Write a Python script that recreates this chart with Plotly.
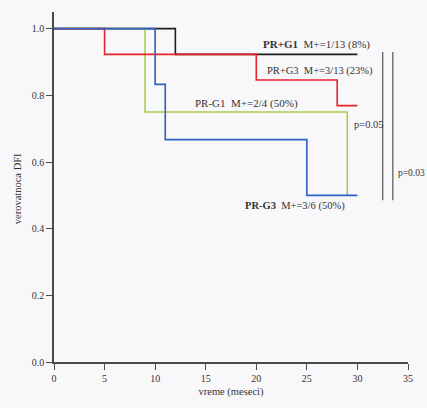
import plotly.graph_objects as go

# Kaplan-Meier step curves: event times (months) and survival probabilities
pr_g1_t = [0, 12, 30]
pr_g1_s = [1.0, 0.923, 0.923]

pr_g3_t = [0, 5, 20, 28, 30]
pr_g3_s = [1.0, 0.923, 0.846, 0.769, 0.769]

prm_g1_t = [0, 9, 29]
prm_g1_s = [1.0, 0.75, 0.5]

prm_g3_t = [0, 10, 11, 25, 30]
prm_g3_s = [1.0, 0.833, 0.667, 0.5, 0.5]

x_ticks = [0, 5, 10, 15, 20, 25, 30, 35]
y_ticks = [0.0, 0.2, 0.4, 0.6, 0.8, 1.0]

FONT = "Liberation Serif, DejaVu Serif, serif"
AXIS_COLOR = "#4a4a4a"
TEXT_COLOR = "#333333"

fig = go.Figure()

# draw order: black, green, red, blue (blue ends up on top)
series = [
    (pr_g1_t, pr_g1_s, "#1e1e1e", "PR+G1"),
    (prm_g1_t, prm_g1_s, "#a9cc55", "PR-G1"),
    (pr_g3_t, pr_g3_s, "#e8222c", "PR+G3"),
    (prm_g3_t, prm_g3_s, "#2f5fc9", "PR-G3"),
]
for t, s, c, name in series:
    fig.add_trace(go.Scatter(
        x=t, y=s, mode="lines", name=name,
        line=dict(color=c, width=1.6, shape="hv"),
        showlegend=False, hoverinfo="skip",
    ))

def label(x, y, bold, rest, size=10.5):
    fig.add_annotation(
        x=x, y=y, xref="x", yref="y", xanchor="left", yanchor="middle",
        text=(f"<b>{bold}</b>" if bold else "") + rest,
        showarrow=False, font=dict(family=FONT, size=size, color=TEXT_COLOR),
    )

label(20.5, 0.953, "PR+G1", "  M+=1/13 (8%)", size=11)
label(20.9, 0.872, None, "PR+G3  M+=3/13 (23%)")
label(13.7, 0.777, None, "PR-G1  M+=2/4 (50%)", size=11)
label(18.7, 0.469, "PR-G3", "  M+=3/6 (50%)")
label(29.5, 0.712, None, "p=0.05", size=10.5)
label(33.8, 0.567, None, "p=0.03", size=9.5)

# comparison brackets
for xv in (32.5, 33.5):
    fig.add_shape(type="line", xref="x", yref="y", x0=xv, x1=xv,
                  y0=0.485, y1=0.93, line=dict(color="#555555", width=1.2))

# y axis title placed as free annotation
fig.add_annotation(
    x=-0.124, y=0.52, xref="paper", yref="y", text="verovatnoca DFI",
    textangle=-90, showarrow=False,
    font=dict(family=FONT, size=10.5, color=TEXT_COLOR),
)

fig.update_xaxes(
    range=[0, 35], tickvals=x_ticks, ticktext=[str(v) for v in x_ticks],
    showgrid=False, zeroline=False, showline=True, linecolor=AXIS_COLOR,
    linewidth=1.5, ticks="outside", ticklen=6, tickcolor=AXIS_COLOR,
    tickwidth=1.2, tickfont=dict(family=FONT, size=10, color=TEXT_COLOR),
    title=dict(text="vreme (meseci)", font=dict(family=FONT, size=10.5, color=TEXT_COLOR),
               standoff=5),
)
fig.update_yaxes(
    range=[0, 1.05], tickvals=y_ticks, ticktext=[f"{v:.1f}" for v in y_ticks],
    showgrid=False, zeroline=False, showline=True, linecolor=AXIS_COLOR,
    linewidth=1.5, ticks="outside", ticklen=6, tickcolor=AXIS_COLOR,
    tickwidth=1.2, tickfont=dict(family=FONT, size=10, color=TEXT_COLOR),
)

fig.update_layout(
    width=427, height=408,
    margin=dict(l=54, r=19, t=12, b=42),
    paper_bgcolor="#f8f8fa", plot_bgcolor="#f8f8fa",
)

fig.write_html("out.html")
